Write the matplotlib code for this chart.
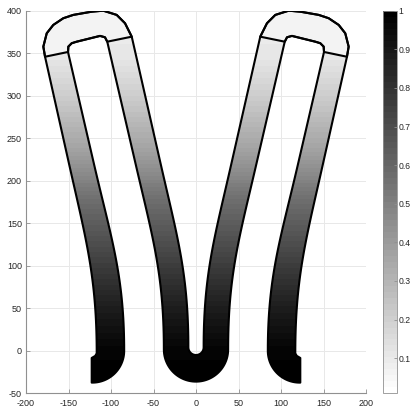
import numpy as np
import matplotlib
matplotlib.use("Agg")
import matplotlib.pyplot as plt
from matplotlib.path import Path
from matplotlib.patches import PathPatch, Polygon
from matplotlib.colors import ListedColormap

plt.rcParams['font.family'] = ['Liberation Sans', 'DejaVu Sans']
plt.rcParams['axes.unicode_minus'] = False

# ---- left half of the actuator (right half is the mirror image) ----
# leg edges, in order: outer leg outside, outer leg gap side,
# inner leg gap side, inner leg centre side.
# each edge is straight from the cap seam to the knee, then bends to a vertical foot
edge_top_x = [-177.6, -150.6, -104.4, -75.6]
edge_top_y = [345.9, 351.5, 363.6, 369.5]
edge_knee_x = [-149.4, -120.1, -71.1, -41.6]
edge_knee_y = [220.0, 220.0, 220.0, 220.0]
edge_foot_x = [-116.8, -84.5, -37.8, -9.0]
edge_foot_y = [-3.0, 0.0, 1.5, 4.0]

# rounded cap, outside contour (left seam -> right seam)
cap_out_x = [-177.6, -179.6, -175.6, -167.9, -156.1, -144.4, -122.7, -109.1, -93.3, -83.5, -77.6, -75.6]
cap_out_y = [345.9, 357.8, 373.5, 383.3, 391.2, 395.1, 398.9, 400.1, 395.1, 385.3, 373.5, 369.5]
# top of the finger gap (left seam -> right seam)
gap_top_x = [-150.6, -150.2, -146.2, -140.4, -112.9, -107.1, -104.4]
gap_top_y = [351.5, 357.8, 361.8, 363.6, 370.4, 368.8, 363.6]

# foot tip with notch
tip_x = [-122.7, -122.7, -118.5]
tip_y = [-37.5, -8.5, -6.0]
# arcs: (centre x, centre y, radius)
hook_arc = (-122.0, 0.0, 37.5)
slot_arc = (0.0, 4.0, 9.0)
base_arc = (0.0, 1.5, 37.8)

# shading along the height (colour value 0..1)
shade_y = [-50, 0, 50, 100, 177, 236, 295, 345, 400]
shade_v = [1.0, 0.98, 0.88, 0.76, 0.57, 0.37, 0.22, 0.11, 0.08]
cap_value = 0.06

cbar_ticks = [0.1, 0.2, 0.3, 0.4, 0.5, 0.6, 0.7, 0.8, 0.9, 1]
vmin, vmax = 0.009, 1.0


def arc(c, a0, a1, n=30):
    cx, cy, r = c
    t = np.radians(np.linspace(a0, a1, n))
    return np.column_stack([cx + r * np.cos(t), cy + r * np.sin(t)])


def pts(xs, ys):
    return np.column_stack([xs, ys])


def mirror(p):
    return p * np.array([-1.0, 1.0])


def edge(i, n=40, handle=0.4):
    """Edge i from cap seam down to the foot: line, then cubic bend."""
    p0 = np.array([edge_top_x[i], edge_top_y[i]])
    k = np.array([edge_knee_x[i], edge_knee_y[i]])
    f = np.array([edge_foot_x[i], edge_foot_y[i]])
    d = (k - p0) / np.linalg.norm(k - p0)
    h = handle * np.linalg.norm(f - k)
    c1 = k + h * d
    c2 = f + np.array([0.0, h])
    t = np.linspace(0, 1, n)[:, None]
    bend = ((1 - t) ** 3) * k + 3 * ((1 - t) ** 2) * t * c1 + 3 * (1 - t) * t ** 2 * c2 + t ** 3 * f
    return np.vstack([p0, bend])


# side A: tip -> outside of outer leg -> cap -> centre slot
side_a = np.vstack([
    pts(tip_x, tip_y),
    edge(0)[::-1],
    pts(cap_out_x, cap_out_y)[1:],
    edge(3)[1:],
    arc(slot_arc, 180, 270),
])
# side B: hook -> finger gap -> base of the U
side_b = np.vstack([
    arc(hook_arc, -90, 0),
    edge(1)[::-1],
    pts(gap_top_x, gap_top_y)[1:],
    edge(2)[1:],
    arc(base_arc, 180, 270),
])
outline = np.vstack([side_a, mirror(side_a)[::-1][1:], mirror(side_b), side_b[::-1][1:]])

cap = np.vstack([pts(cap_out_x, cap_out_y), pts(gap_top_x, gap_top_y)[::-1]])

cmap = ListedColormap(plt.cm.gray_r(np.linspace(0, 1, 64)))

fig = plt.figure(figsize=(4.13, 4.13), dpi=100)
ax = fig.add_axes([26 / 413, 19.7 / 413, 340 / 413, 382.6 / 413])

ygrid = np.linspace(-50, 400, 901)
grad = np.interp(ygrid, shade_y, shade_v)[:, None] * np.ones((1, 2))
im = ax.imshow(grad, extent=[-200, 200, -50, 400], origin='lower', cmap=cmap,
               vmin=vmin, vmax=vmax, interpolation='nearest', zorder=1)
body = PathPatch(Path(outline, closed=True), facecolor='none', edgecolor='black',
                 lw=1.5, joinstyle='round', zorder=3)
ax.add_patch(body)
im.set_clip_path(body)

for c in (cap, mirror(cap)):
    ax.add_patch(Polygon(c, closed=True, facecolor=cmap((cap_value - vmin) / (vmax - vmin)),
                         edgecolor='black', lw=1.5, joinstyle='round', zorder=2.5))

ax.set_xlim(-200, 200)
ax.set_ylim(-50, 400)
ax.set_aspect('equal')
ax.set_xticks(np.arange(-200, 201, 50))
ax.set_yticks(np.arange(-50, 401, 50))
ax.grid(True, color='#e8e8e8', lw=0.7)
ax.set_axisbelow(True)
for s in ('top', 'right'):
    ax.spines[s].set_visible(False)
for s in ('left', 'bottom'):
    ax.spines[s].set_color('#909090')
    ax.spines[s].set_linewidth(0.8)
ax.tick_params(direction='in', length=3, width=0.6, color='#909090',
               labelcolor='#262626', labelsize=6.5)
ax.tick_params(axis='x', pad=4)
ax.tick_params(axis='y', pad=3)

cax = fig.add_axes([382.7 / 413, 19.7 / 413, 14 / 413, 382.6 / 413])
cb = fig.colorbar(im, cax=cax, ticks=cbar_ticks)
cb.ax.set_yticklabels([str(t) for t in cbar_ticks])
cb.outline.set_edgecolor('#909090')
cb.outline.set_linewidth(0.6)
cax.tick_params(direction='in', length=2, width=0.6, color='#909090',
                labelcolor='#262626', labelsize=6.2, pad=1.2)

fig.savefig('out.png', dpi=100)
